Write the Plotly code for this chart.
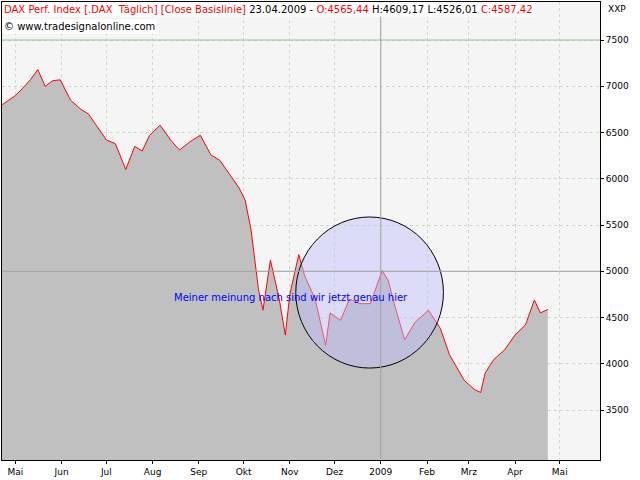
import plotly.graph_objects as go

dates = [
    "2008-04-22", "2008-05-01", "2008-05-06", "2008-05-11", "2008-05-16", "2008-05-21", "2008-05-26",
    "2008-05-31", "2008-06-07", "2008-06-14", "2008-06-19", "2008-06-24", "2008-07-01", "2008-07-07",
    "2008-07-14", "2008-07-20", "2008-07-25", "2008-07-30", "2008-08-06", "2008-08-13", "2008-08-19",
    "2008-08-26", "2008-09-02", "2008-09-09", "2008-09-15", "2008-09-22", "2008-09-28", "2008-10-02",
    "2008-10-06", "2008-10-11", "2008-10-14", "2008-10-19", "2008-10-25", "2008-10-29", "2008-11-01",
    "2008-11-07", "2008-11-11", "2008-11-18", "2008-11-25", "2008-11-28", "2008-12-05", "2008-12-11",
    "2008-12-18", "2008-12-25", "2009-01-02", "2009-01-06", "2009-01-10", "2009-01-17", "2009-01-24",
    "2009-02-02", "2009-02-10", "2009-02-16", "2009-02-26", "2009-03-05", "2009-03-09", "2009-03-12",
    "2009-03-18", "2009-03-25", "2009-04-01", "2009-04-08", "2009-04-14", "2009-04-18", "2009-04-23",
]
close = [
    6800, 6900, 6980, 7070, 7180, 7000, 7060,
    7070, 6850, 6750, 6700, 6580, 6420, 6380,
    6100, 6350, 6300, 6470, 6580, 6420, 6310,
    6400, 6470, 6260, 6200, 6040, 5900, 5770,
    5450, 4800, 4580, 5120, 4690, 4310, 4750,
    5180, 4950, 4700, 4200, 4550, 4470, 4700,
    4650, 4650, 5010, 4900, 4650, 4260, 4450,
    4580, 4380, 4100, 3820, 3720, 3690, 3900,
    4050, 4150, 4310, 4420, 4690, 4550, 4587,
]
month_ticks = ["2008-05-01", "2008-06-01", "2008-07-01", "2008-08-01", "2008-09-01", "2008-10-01",
               "2008-11-01", "2008-12-01", "2009-01-01", "2009-02-01", "2009-03-01", "2009-04-01", "2009-05-01"]
month_labels = ["Mai", "Jun", "Jul", "Aug", "Sep", "Okt", "Nov", "Dez", "2009", "Feb", "Mrz", "Apr", "Mai"]
y_ticks = [3500, 4000, 4500, 5000, 5500, 6000, 6500, 7000, 7500]

fig = go.Figure()
fig.add_trace(go.Scatter(x=dates, y=close, mode="lines", fill="tozeroy", fillcolor="#c0c0c0",
                         line=dict(color="red", width=1)))

# circle around the recent range
fig.add_shape(type="circle", xref="x", yref="y", x0="2008-11-05", x1="2009-02-12", y0=3954, y1=5587,
              fillcolor="rgba(190,190,255,0.45)", line=dict(color="black", width=1))
fig.add_hline(y=5000, line=dict(color="#a0a0a0", width=1))
fig.add_hline(y=7500, line=dict(color="#a0c0a0", width=1))
fig.add_vline(x="2009-01-01", line=dict(color="#a0a0a0", width=1))

fig.add_annotation(x="2008-11-02", y=4720, text="Meiner meinung nach sind wir jetzt genau hier",
                   showarrow=False, font=dict(color="blue", size=10, family="DejaVu Sans"))
fig.add_annotation(xref="paper", yref="paper", x=0.0, y=1.0, xanchor="left", yanchor="top", showarrow=False,
                   bgcolor="white", align="left",
                   text="<span style='color:red'>DAX Perf. Index [.DAX  Täglich] [Close Basislinie]</span> "
                        "23.04.2009 - <span style='color:red'>O:4565,44</span> H:4609,17 L:4526,01 "
                        "<span style='color:red'>C:4587,42</span>",
                   font=dict(size=10, family="DejaVu Sans", color="black"))
fig.add_annotation(xref="paper", yref="paper", x=0.0, y=0.962, xanchor="left", yanchor="top", showarrow=False,
                   bgcolor="white", text="© www.tradesignalonline.com",
                   font=dict(size=10, family="DejaVu Sans", color="black"))
fig.add_annotation(xref="paper", yref="paper", x=1.01, y=1.0, xanchor="left", yanchor="top", showarrow=False,
                   text="XXP", font=dict(size=9, family="DejaVu Sans", color="black"))

fig.update_xaxes(range=["2008-04-22", "2009-05-28"], tickvals=month_ticks, ticktext=month_labels,
                 ticks="outside", ticklen=3, tickcolor="black", showgrid=True, gridcolor="#c8dcc8",
                 griddash="dot", showline=True, linecolor="black", mirror=True, zeroline=False,
                 tickfont=dict(size=9), automargin=False)
fig.update_yaxes(range=[2960, 7911], side="right", tickvals=y_ticks, ticks="outside", ticklen=3,
                 tickcolor="black", showgrid=True, gridcolor="#c8dcc8", griddash="dot",
                 showline=True, linecolor="black", mirror=True, zeroline=False,
                 tickfont=dict(size=9), automargin=False)
fig.update_layout(width=640, height=480, margin=dict(l=2, r=40, t=2, b=20), showlegend=False,
                  plot_bgcolor="#f5f5f5", paper_bgcolor="white",
                  font=dict(family="DejaVu Sans", size=10, color="black"))
fig.write_html("out.html", config={"displayModeBar": False},
               post_script="document.body.style.margin='0';")
